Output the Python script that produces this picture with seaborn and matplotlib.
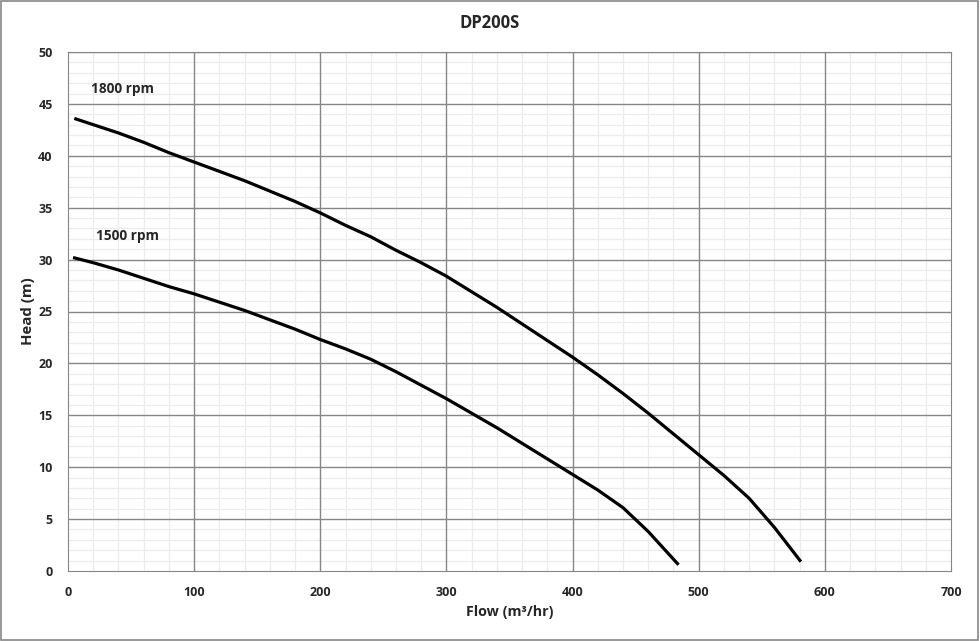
import numpy as np
import pandas as pd
import matplotlib
matplotlib.use("Agg")
import matplotlib.pyplot as plt
import seaborn as sns
from matplotlib.ticker import MultipleLocator
from matplotlib.patches import Rectangle

# === 曲线数据 ===
flow_1800 = [5, 20, 40, 60, 80, 100, 120, 140, 160, 180, 200, 220, 240, 260, 280,
             300, 320, 340, 360, 380, 400, 420, 440, 460, 480, 500, 520, 540, 560, 581]
head_1800 = [43.6, 43.0, 42.2, 41.3, 40.3, 39.4, 38.5, 37.6, 36.6, 35.6, 34.5, 33.3, 32.2, 30.9, 29.7,
             28.4, 26.9, 25.4, 23.8, 22.2, 20.6, 18.9, 17.1, 15.2, 13.2, 11.2, 9.2, 7.0, 4.2, 0.9]
flow_1500 = [4, 20, 40, 60, 80, 100, 120, 140, 160, 180, 200, 220, 240, 260, 280,
             300, 320, 340, 360, 380, 400, 420, 440, 460, 484]
head_1500 = [30.2, 29.7, 29.0, 28.2, 27.4, 26.7, 25.9, 25.1, 24.2, 23.3, 22.3, 21.4, 20.4, 19.2, 17.9,
             16.6, 15.2, 13.8, 12.3, 10.8, 9.3, 7.8, 6.1, 3.8, 0.6]
speeds = ["1800 rpm", "1500 rpm"]
label_pos = [(18, 46.4), (22, 32.3)]

df = pd.concat([
    pd.DataFrame({"flow": flow_1800, "head": head_1800, "speed": speeds[0]}),
    pd.DataFrame({"flow": flow_1500, "head": head_1500, "speed": speeds[1]}),
])

sns.set_style("white")
plt.rcParams["font.family"] = ["Open Sans", "DejaVu Sans"]

fig = plt.figure(figsize=(9.8, 6.41), dpi=100)
ax = fig.add_axes([68 / 980, 1 - 571 / 641, 883 / 980, 519 / 641])

sns.lineplot(data=df, x="flow", y="head", hue="speed", palette=["black", "black"],
             linewidth=2.3, legend=False, sort=False, ax=ax, zorder=3)
for ln in ax.lines:
    ln.set_solid_capstyle("butt")
    ln.set_solid_joinstyle("round")

for name, (lx, ly) in zip(speeds, label_pos):
    ax.text(lx, ly, name, fontsize=9.8, fontweight="bold", va="center", ha="left")

ax.set_xlim(0, 700)
ax.set_ylim(0, 50)
ax.xaxis.set_major_locator(MultipleLocator(100))
ax.xaxis.set_minor_locator(MultipleLocator(20))
ax.yaxis.set_major_locator(MultipleLocator(5))
ax.yaxis.set_minor_locator(MultipleLocator(1))
ax.grid(which="minor", color="#ececec", linewidth=0.9)
ax.set_axisbelow(True)
# 主网格线画在次网格之上
for v in np.arange(100, 700, 100):
    ax.axvline(v, color="#868686", linewidth=1.0, zorder=1)
for h in np.arange(5, 55, 5):
    ax.axhline(h, color="#868686", linewidth=1.0, zorder=1)

for s in ax.spines.values():
    s.set_color("#868686")
ax.tick_params(which="major", direction="out", length=5, color="#868686",
               labelsize=9, pad=6)
ax.tick_params(which="minor", length=0)
for lab in ax.get_xticklabels() + ax.get_yticklabels():
    lab.set_fontweight("bold")

ax.set_xlabel("Flow (m³/hr)", fontsize=10.3, fontweight="bold", labelpad=4)
ax.set_ylabel("Head (m)", fontsize=10.8, fontweight="bold", labelpad=2)
fig.text(490 / 980, 1 - 23 / 641, "DP200S", fontsize=12, fontweight="bold",
         ha="center", va="center")

fig.patches.append(Rectangle((0.001, 0.001), 0.997, 0.997, transform=fig.transFigure,
                             fill=False, edgecolor="#868686", linewidth=1.2))

plt.savefig("out.png", dpi=100)
plt.close()
